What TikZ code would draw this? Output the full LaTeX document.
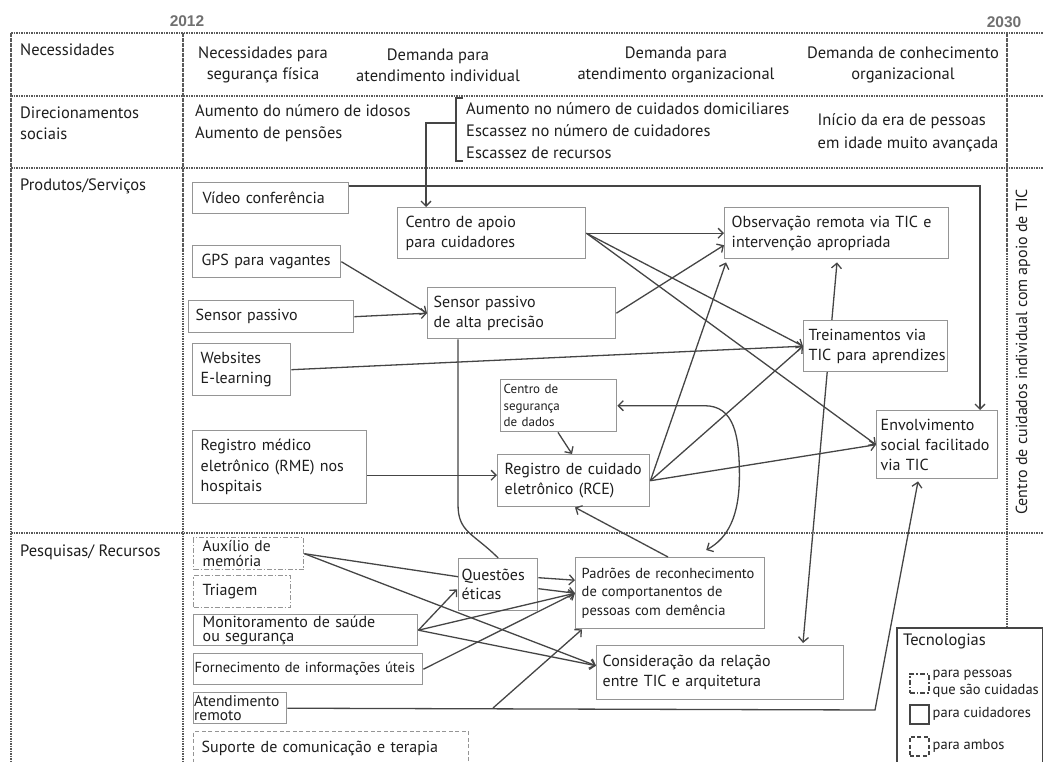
\documentclass[tikz,border=0pt]{standalone}
\usepackage{fontspec}
\setmainfont{PT Sans}
\newfontfamily\yearfont{Liberation Sans}
\usetikzlibrary{arrows.meta,calc,backgrounds}
\definecolor{txt}{HTML}{1E1E1E}
\definecolor{lgray}{HTML}{959595}
\definecolor{cgray}{HTML}{454545}
\definecolor{tgray}{HTML}{5A5A5A}
\definecolor{ygray}{HTML}{707070}
\begin{document}
\begin{tikzpicture}[x=1pt,y=-1pt,
  every node/.style={text=txt, font=\fontsize{16}{20}\selectfont},
  tfont/.style={font=\fontsize{16.5}{21}\selectfont},
  tline/.style={draw=tgray, line width=2pt, dash pattern=on 1.6pt off 0.9pt},
  bx/.style={draw=lgray, line width=1.4pt, fill=white, anchor=north west, inner xsep=8pt, inner ysep=0pt, align=left},
  dd/.style={dash pattern=on 5pt off 2pt on 1.5pt off 2pt},
  dsh/.style={dash pattern=on 4pt off 2.5pt},
  cline/.style={draw=cgray, line width=1.3pt},
  tip/.tip={Straight Barb[length=5pt,width=10pt]},
  arr/.style={cline, -tip},
  darr/.style={cline, tip-tip},
  plain/.style={inner sep=0pt}
]
\useasboundingbox (0,0) rectangle (1043,762);
\clip (0,0) rectangle (1043,762);

% years
\node[plain, font=\yearfont\bfseries\fontsize{15.5}{17}\selectfont, text=ygray] (y1) at (187,21) {2012};
\node[plain, font=\yearfont\bfseries\fontsize{15.5}{17}\selectfont, text=ygray] (y2) at (1004,22) {2030};

% table
\draw[tline] (11,33) -- (1043,33);
\draw[tline] (11,96) -- (1043,96);
\draw[tline] (11,168) -- (1043,168);
\draw[tline] (11,533) -- (1043,533);
\draw[tline] (11,33) -- (11,762);
\draw[tline] (183,33) -- (183,762);
\draw[tline] (1007,33) -- (1007,627);

% row labels
\node[plain, tfont, anchor=west] (l1) at (20,50) {Necessidades};
\node[plain, tfont, anchor=west, align=left] (l2) at (20,123) {Direcionamentos\\sociais};
\node[plain, tfont, anchor=west] (l3) at (20,186) {Produtos/Servi\c{c}os};
\node[plain, tfont, anchor=west] (l4) at (20,552) {Pesquisas/ Recursos};

% row 1
\node[plain, tfont, align=center] (n1) at (263,65) {Necessidades para\\seguran\c{c}a f\'isica};
\node[plain, tfont, align=center] (n2) at (438,65) {Demanda para\\atendimento individual};
\node[plain, tfont, align=center] (n3) at (676,65) {Demanda para\\atendimento organizacional};
\node[plain, tfont, align=center] (n4) at (903,65) {Demanda de conhecimento\\organizacional};

% row 2
\node[plain, anchor=west, align=left, font=\fontsize{16.5}{21.5}\selectfont] (d1) at (195,123) {Aumento do n\'umero de idosos\\Aumento de pens\~oes};
\node[plain, anchor=west, align=left, font=\fontsize{16.5}{22}\selectfont] (d2) at (466,131) {Aumento no n\'umero de cuidados domiciliares\\Escassez no n\'umero de cuidadores\\Escassez de recursos};
\node[plain, align=left, font=\fontsize{16.5}{22.5}\selectfont] (d3) at (908,133) {In\'icio da era de pessoas\\em idade muito avan\c{c}ada};

% right column
\node[plain, rotate=90, font=\fontsize{16}{20}\selectfont] (rc) at (1023,352) {Centro de cuidados individual com apoio de TIC};

% product boxes
\node[bx, text width=136pt, minimum height=31pt, inner xsep=10pt] (video) at (192,182) {V\'ideo confer\^encia};
\node[bx, text width=172pt, minimum height=51pt] (apoio) at (397,207) {Centro de apoio\\para cuidadores};
\node[bx, text width=130pt, minimum height=32pt, inner xsep=9pt] (gps) at (192,245) {GPS para vagantes};
\node[bx, text width=151pt, minimum height=32pt, inner xsep=7pt] (sp) at (188,300) {Sensor passivo};
\node[bx, text width=176pt, minimum height=51pt, inner xsep=6pt] (spa) at (427,287) {Sensor passivo\\de alta precis\~ao};
\node[bx, text width=82pt, minimum height=52pt] (web) at (192,343) {Websites\\E-learning};
\node[bx, text width=210pt, minimum height=51pt, inner xsep=7pt] (obs) at (724,207) {Observa\c{c}\~ao remota via TIC e\\interven\c{c}\~ao apropriada};
\node[bx, text width=140pt, minimum height=51pt, inner xsep=2pt] (trein) at (803,320) {\hspace*{3pt}Treinamentos via\\\hspace*{3pt}TIC para aprendizes};
\node[bx, text width=110pt, minimum height=52pt, inner xsep=3pt, font=\fontsize{13}{16.5}\selectfont] (seg) at (500,379) {Centro de\\seguran\c{c}a\\de dados};
\node[bx, text width=138pt, minimum height=52pt, inner xsep=7pt] (rce) at (497,454) {Registro de cuidado\\eletr\^onico (RCE)};
\node[bx, text width=158pt, minimum height=73pt, font=\fontsize{16}{20.5}\selectfont] (rme) at (192,430) {Registro m\'edico\\eletr\^onico (RME) nos\\hospitais};
\node[bx, text width=113pt, minimum height=68pt, inner xsep=4pt] (env) at (876,410) {Envolvimento\\social facilitado\\via TIC};

% research boxes
\node[bx, dd, text width=92pt, minimum height=32pt, inner xsep=9pt, font=\fontsize{15.5}{14.5}\selectfont] (aux) at (193,537) {Aux\'ilio de\\mem\'oria};
\node[bx, dd, text width=79pt, minimum height=32pt, inner xsep=9pt] (tri) at (193,575) {Triagem};
\node[bx, text width=206pt, minimum height=31pt, inner xsep=9pt, font=\fontsize{16}{14.5}\selectfont] (mon) at (193,614) {Monitoramento de sa\'ude\\ou seguran\c{c}a};
\node[bx, text width=227pt, minimum height=31pt, inner xsep=1pt, font=\fontsize{14.5}{16}\selectfont] (forn) at (193,653) {Fornecimento de informa\c{c}\~oes \'uteis};
\node[bx, text width=92pt, minimum height=31pt, inner xsep=0.5pt, font=\fontsize{15.5}{14.5}\selectfont] (aten) at (193,692) {Atendimento\\remoto};
\node[bx, dsh, text width=259pt, minimum height=34pt, inner xsep=8pt] (sup) at (193,731) {Suporte de comunica\c{c}\~ao e terapia};
\node[bx, text width=73pt, minimum height=52pt, inner xsep=3pt, font=\fontsize{16}{19}\selectfont] (quest) at (458,558) {Quest\~oes\\\'eticas};
\node[bx, text width=177pt, minimum height=71pt, inner xsep=6pt, font=\fontsize{14.5}{18.5}\selectfont] (padr) at (575,557) {Padr\~oes de reconhecimento\\de comportanentos de\\pessoas com dem\^encia};
\node[bx, text width=235pt, minimum height=54pt, inner xsep=6pt] (cons) at (596,645) {Considera\c{c}\~ao da rela\c{c}\~ao\\entre TIC e arquitetura};

% legend
\node[bx, draw=cgray, line width=1.5pt, minimum width=146pt, minimum height=140pt, inner sep=0pt] (leg) at (896,627) {};
\node[plain, anchor=west, font=\fontsize{16.5}{18}\selectfont] (legt) at (903,641) {Tecnologias};
\node[draw=cgray, line width=1.5pt, dd, anchor=north west, minimum size=19pt, inner sep=0pt] (ic1) at (909,673) {};
\node[draw=cgray, line width=1.5pt, anchor=north west, minimum size=19pt, inner sep=0pt] (ic2) at (909,704) {};
\node[draw=cgray, line width=1.5pt, dsh, anchor=north west, minimum size=19pt, inner sep=0pt] (ic3) at (909,736) {};
\node[plain, anchor=west, align=left, font=\fontsize{14.5}{17}\selectfont] (lt1) at ([xshift=3pt]ic1.east) {para pessoas\\que s\~ao cuidadas};
\node[plain, anchor=west, font=\fontsize{14.5}{17}\selectfont] (lt2) at ([xshift=3pt]ic2.east) {para cuidadores};
\node[plain, anchor=west, font=\fontsize{14.5}{17}\selectfont] (lt3) at ([xshift=3pt]ic3.east) {para ambos};

% bracket and connector from social drivers
\draw[cline] (463,98) -- (456,98) -- (456,161) -- (463,161);
\coordinate (brk) at (456,123);
\draw[arr] (brk) -- (426,123) -- ($(apoio.north west)+(29,0)$);

% connectors, row 3
\draw[arr] ($(video.north east)+(0,4)$) -| ($(env.north west)+(104,0)$);
\draw[arr] (gps.east) -- (spa.west);
\draw[arr] (sp.east) -- (spa.west);
\draw[arr] (spa.east) -- ($(obs.west)+(0,12)$);
\draw[arr] (apoio.east) -- (obs.west);
\draw[arr] (apoio.east) -- (trein.west);
\draw[arr] (apoio.east) -- (env.west);
\draw[arr] (web.east) -- (trein.west);
\draw[arr] (rce.east) -- ($(obs.south west)+(2,3)$);
\draw[arr] (rce.east) -- (trein.west);
\draw[arr] (rce.east) -- (env.west);
\begin{scope}[on background layer]
\draw[darr] ($(obs.south west)+(113,3)$) -- ($(cons.north west)+(207,-2)$);
\end{scope}
\draw[arr] ($(seg.south west)+(58,0)$) -- ($(rce.north west)+(75,0)$);
\draw[arr] ($(rme.east)+(0,8)$) coordinate (rm) -- (rm -| rce.west);
\draw[darr] (seg.east) -- ++(87,0) .. controls +(30,0) and +(0,-40) .. ++(35,70) .. controls +(0,40) and +(22,-12) .. ($(padr.north)+(36,-7)$);
\draw[arr] ($(padr.north west)+(93,0)$) -- ($(rce.south west)+(78,0)$);
\draw[cline] ($(spa.south west)+(31,0)$) -- ++(0,165) .. controls +(0,28) and +(-25,-25) .. (quest.north);

% connectors, row 4
\coordinate (k1) at (875,710);
\coordinate (k2) at (493,708);
\draw[arr] (aten.east) -- (k1) -- ($(env.south west)+(42,2)$);
\draw[arr] (k2) -- ($(padr.south west)+(7,0)$);
\draw[cline] (aux.east) -- ($(quest.west)+(0,-8)$);
\draw[arr] (aux.east) -- ($(cons.west)+(0,-7)$);
\draw[arr] (mon.east) -- ($(quest.south west)+(-1,-22)$);
\draw[arr] (mon.east) -- (padr.west);
\draw[arr] (mon.east) -- ($(cons.west)+(0,-7)$);
\draw[arr] ($(quest.east)+(0,-7)$) -- ($(padr.west)+(0,-13)$);
\draw[arr] ($(quest.east)+(0,4)$) -- (padr.west);
\draw[arr] (forn.east) -- (padr.west);
\end{tikzpicture}
\end{document}
